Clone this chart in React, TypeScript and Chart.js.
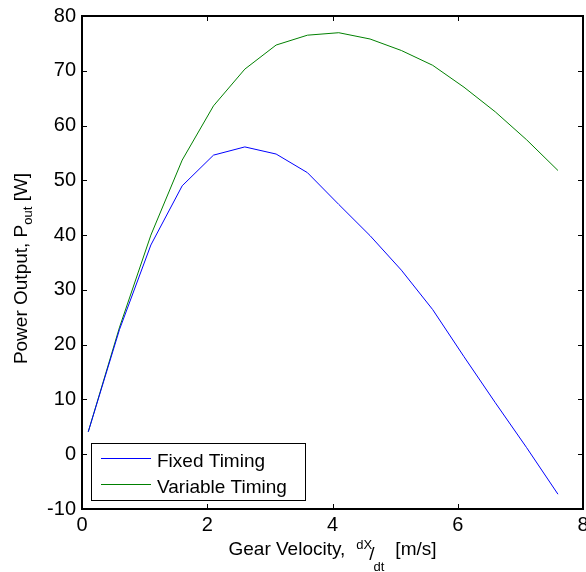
import React, { useEffect, useRef } from "react";
import { Chart, registerables } from "chart.js";

Chart.register(...registerables);

const velocities = [0.1, 0.6, 1.1, 1.6, 2.1, 2.6, 3.1, 3.6, 4.1, 4.6, 5.1, 5.6, 6.1, 6.6, 7.1, 7.6];
const fixedTiming = [4.1, 22.8, 38.2, 49.0, 54.6, 56.1, 54.8, 51.4, 45.6, 39.9, 33.6, 26.4, 17.8, 9.4, 1.2, -7.3];
const variableTiming = [4.1, 23.2, 40.0, 53.7, 63.6, 70.3, 74.7, 76.5, 76.95, 75.8, 73.7, 71.0, 67.0, 62.5, 57.4, 51.8];
const seriesNames = ["Fixed Timing", "Variable Timing"];
const seriesColors = ["#0000ff", "#008000"];
const xTitleParts = ["Gear Velocity,", "dX", "/", "dt", "[m/s]"];
const yTitleParts = ["Power Output, P", "out", " [W]"];

const FONT = "'Liberation Sans', Arial, sans-serif";

const decorPlugin = {
  id: "matlabDecor",
  afterDraw(chart: any) {
    const ctx = chart.ctx as CanvasRenderingContext2D;
    const a = chart.chartArea;
    const xs = chart.scales.x;
    const ys = chart.scales.y;
    ctx.save();
    // inward ticks
    ctx.strokeStyle = "#000";
    ctx.lineWidth = 1;
    ctx.beginPath();
    xs.ticks.forEach((t: any) => {
      const p = Math.round(xs.getPixelForValue(t.value)) + 0.5;
      ctx.moveTo(p, a.bottom);
      ctx.lineTo(p, a.bottom - 5);
      ctx.moveTo(p, a.top);
      ctx.lineTo(p, a.top + 5);
    });
    ys.ticks.forEach((t: any) => {
      const p = Math.round(ys.getPixelForValue(t.value)) + 0.5;
      ctx.moveTo(a.left, p);
      ctx.lineTo(a.left + 5, p);
      ctx.moveTo(a.right, p);
      ctx.lineTo(a.right - 5, p);
    });
    ctx.stroke();
    // box
    ctx.lineWidth = 2;
    ctx.strokeRect(a.left, a.top, a.right - a.left, a.bottom - a.top);

    // legend
    const lx = a.left + 9;
    const lw = 214;
    const lh = 57;
    const ly = a.bottom - 9 - lh;
    ctx.fillStyle = "#fff";
    ctx.fillRect(lx, ly, lw, lh);
    ctx.lineWidth = 1;
    ctx.strokeStyle = "#000";
    ctx.strokeRect(lx + 0.5, ly + 0.5, lw, lh);
    ctx.font = `19px ${FONT}`;
    ctx.textBaseline = "alphabetic";
    ctx.textAlign = "left";
    chart.data.datasets.forEach((ds: any, i: number) => {
      const cy = ly + 15.5 + i * 26;
      ctx.beginPath();
      ctx.strokeStyle = seriesColors[i];
      ctx.lineWidth = 1;
      ctx.moveTo(lx + 10, cy);
      ctx.lineTo(lx + 60, cy);
      ctx.stroke();
      ctx.fillStyle = "#000";
      ctx.fillText(ds.label, lx + 66, cy + 8);
    });

    // x title
    const big = `19px ${FONT}`;
    const small = `13px ${FONT}`;
    const xp = [
      { t: xTitleParts[0], f: big, dy: 0, gap: 11 },
      { t: xTitleParts[1], f: small, dy: -6, gap: -3 },
      { t: xTitleParts[2], f: big, dy: 5, gap: -1 },
      { t: xTitleParts[3], f: small, dy: 16, gap: 11 },
      { t: xTitleParts[4], f: big, dy: 0, gap: 0 },
    ];
    let total = 0;
    xp.forEach((p) => {
      ctx.font = p.f;
      total += ctx.measureText(p.t).width + p.gap;
    });
    let x = (a.left + a.right) / 2 - total / 2;
    const baseX = 555;
    ctx.fillStyle = "#000";
    xp.forEach((p) => {
      ctx.font = p.f;
      ctx.fillText(p.t, x, baseX + p.dy);
      x += ctx.measureText(p.t).width + p.gap;
    });

    // y title
    const yp = [
      { t: yTitleParts[0], f: big, dy: 0 },
      { t: yTitleParts[1], f: small, dy: 5 },
      { t: yTitleParts[2], f: big, dy: 0 },
    ];
    let ytot = 0;
    yp.forEach((p) => {
      ctx.font = p.f;
      ytot += ctx.measureText(p.t).width;
    });
    ctx.translate(27, (a.top + a.bottom) / 2 + 6);
    ctx.rotate(-Math.PI / 2);
    let yx = -ytot / 2;
    yp.forEach((p) => {
      ctx.font = p.f;
      ctx.fillText(p.t, yx, p.dy);
      yx += ctx.measureText(p.t).width;
    });
    ctx.restore();
  },
};

export default function App() {
  const ref = useRef<HTMLCanvasElement | null>(null);
  useEffect(() => {
    if (!ref.current) return;
    const chart = new Chart(ref.current, {
      type: "line",
      data: {
        datasets: [
          {
            label: seriesNames[0],
            data: velocities.map((v, i) => ({ x: v, y: fixedTiming[i] })),
            borderColor: seriesColors[0],
            borderWidth: 1,
            pointRadius: 0,
            tension: 0,
            fill: false,
          },
          {
            label: seriesNames[1],
            data: velocities.map((v, i) => ({ x: v, y: variableTiming[i] })),
            borderColor: seriesColors[1],
            borderWidth: 1,
            pointRadius: 0,
            tension: 0,
            fill: false,
          },
        ],
      },
      options: {
        responsive: false,
        animation: false,
        layout: { padding: { top: 16, right: 3, left: 0, bottom: 0 } },
        plugins: { legend: { display: false }, tooltip: { enabled: false }, title: { display: false } },
        scales: {
          x: {
            type: "linear",
            min: 0,
            max: 8,
            grid: { display: false, drawTicks: false },
            border: { display: false },
            ticks: { stepSize: 2, color: "#000", padding: 4, font: { size: 20, family: FONT }, maxRotation: 0 },
            afterFit: (s: any) => {
              s.height = 63;
              s.paddingLeft = 0;
              s.paddingRight = 0;
            },
          },
          y: {
            type: "linear",
            min: -10,
            max: 80,
            grid: { display: false, drawTicks: false },
            border: { display: false },
            ticks: { stepSize: 10, color: "#000", padding: 6, font: { size: 20, family: FONT } },
            afterFit: (s: any) => {
              s.width = 82;
              s.paddingTop = 0;
              s.paddingBottom = 0;
            },
          },
        },
      },
      plugins: [decorPlugin],
    });
    return () => chart.destroy();
  }, []);
  return (
    <div style={{ position: "absolute", left: 0, top: 0, width: 586, height: 572, background: "#fff" }}>
      <canvas ref={ref} width={586} height={572} style={{ display: "block" }} />
    </div>
  );
}
